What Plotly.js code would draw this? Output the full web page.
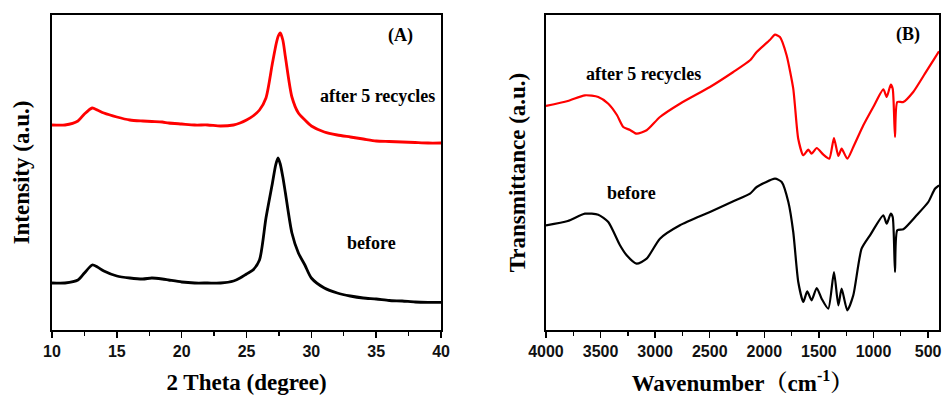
<!DOCTYPE html>
<html>
<head>
<meta charset="utf-8">
<script src="https://cdn.plot.ly/plotly-3.0.1.min.js"></script>
<style>html,body{margin:0;padding:0;background:#fff;}#chart{width:942px;height:396px;}</style>
</head>
<body>
<div id="chart"></div>
<script>
// ---- (A) XRD data ----
const xrdTheta = [10, 11, 12, 12.5, 13.1, 13.5, 14, 15, 16, 17, 17.7, 18.5, 19, 20, 21, 22, 23, 24, 24.5, 25, 25.5, 26, 26.5, 27, 27.3, 27.45, 27.6, 27.8, 28, 28.5, 29, 29.5, 30, 31, 32, 33, 34, 35, 36, 37, 38, 39, 40];
const xrdAfter = [205, 205, 209, 216, 222, 220, 217, 213, 210, 209, 208.5, 208, 207, 206, 205, 205, 204, 205, 207, 210, 214, 220, 232, 267, 287, 294, 297, 290, 273, 233, 217, 210, 204, 198, 195, 193, 191, 189, 188.5, 188, 187.5, 187, 187];
const xrdThetaB = [10, 11, 12, 12.5, 13.1, 13.5, 14, 15, 16, 17, 17.7, 18.5, 19, 20, 21, 22, 23, 24, 24.5, 25, 25.5, 26, 26.5, 27, 27.25, 27.43, 27.6, 27.8, 28, 28.5, 29, 29.5, 30, 31, 32, 33, 34, 35, 36, 37, 38, 39, 40];
const xrdBefore = [47, 47, 50, 57, 65, 63, 59, 54, 52, 51, 52, 51, 50, 48, 47, 47, 47, 49, 52, 56, 60, 70, 112, 147, 165, 172, 166, 153, 137, 97, 77, 65, 52, 42, 37, 34, 32, 31, 29.5, 29, 28, 27.7, 27.7];
const xrdTicks = [10, 15, 20, 25, 30, 35, 40];

// ---- (B) FTIR data ----
const irWaveAfter = [4000, 3800, 3643, 3521, 3429, 3350, 3292, 3230, 3170, 3078, 2956, 2773, 2498, 2284, 2131, 2070, 1950, 1902, 1857, 1796, 1735, 1720, 1689, 1643, 1597, 1567, 1520, 1459, 1405, 1362, 1322, 1292, 1240, 1185, 1093, 1002, 910, 879, 842, 824, 803, 782, 727, 636, 529, 452, 400];
const irAfter = [224, 229, 234.7, 233, 226.3, 215, 203, 200, 196.3, 199.7, 213, 226.3, 243, 258, 269.7, 278, 290, 295.3, 293, 274.7, 241.3, 225, 191, 174.7, 180.3, 176.3, 182, 175.3, 171.3, 192, 174, 181.3, 171.3, 183, 204.7, 223, 240.7, 233, 245.3, 241.3, 193, 228, 228, 238, 256.3, 269.7, 278.7];
const irWaveBefore = [4000, 3800, 3643, 3521, 3429, 3322, 3261, 3170, 3078, 2956, 2773, 2498, 2284, 2131, 2070, 1902, 1841, 1780, 1735, 1689, 1643, 1607, 1567, 1520, 1475, 1414, 1362, 1322, 1292, 1240, 1185, 1109, 1032, 910, 879, 842, 824, 803, 782, 727, 605, 498, 437, 400];
const irBefore = [104.7, 109, 116.3, 115.3, 108, 84.7, 74.7, 66.3, 71.3, 91.3, 104.7, 118, 128.7, 136.3, 143, 151.3, 148, 128, 98, 48, 28, 38.7, 29.7, 42, 31.3, 21.3, 58, 24.7, 41.3, 19.7, 34.7, 81.3, 94.7, 114.7, 106.3, 116.3, 113, 58, 99.7, 100.7, 114.7, 128, 141.3, 144.7];
const irTicks = [4000, 3500, 3000, 2500, 2000, 1500, 1000, 500];

const serif = 'Liberation Serif, "Times New Roman", "Noto Serif CJK SC", "Noto Sans CJK SC", serif';
const sans = 'Liberation Sans, Arial, sans-serif';
const RED = '#ff0000';

const traces = [
  {x: xrdThetaB, y: xrdBefore, xaxis: 'x', yaxis: 'y', mode: 'lines', line: {color: '#000', width: 2.8, shape: 'spline', smoothing: 0.7}, name: 'before'},
  {x: xrdTheta, y: xrdAfter, xaxis: 'x', yaxis: 'y', mode: 'lines', line: {color: RED, width: 2.8, shape: 'spline', smoothing: 0.7}, name: 'after 5 recycles'},
  {x: irWaveBefore, y: irBefore, xaxis: 'x2', yaxis: 'y2', mode: 'lines', line: {color: '#000', width: 2.2, shape: 'spline', smoothing: 0.6}, name: 'before'},
  {x: irWaveAfter, y: irAfter, xaxis: 'x2', yaxis: 'y2', mode: 'lines', line: {color: RED, width: 2.2, shape: 'spline', smoothing: 0.6}, name: 'after 5 recycles'}
];

const tickFont = {family: sans, size: 16, color: '#111', weight: 'bold'};
const titleFont = {family: serif, size: 23, color: '#000', weight: 'bold'};
const annFont = {family: serif, size: 18, color: '#000', weight: 'bold'};

const baseX = {
  showline: true, linecolor: '#000', linewidth: 1.6, mirror: true,
  ticks: 'outside', ticklen: 6, tickwidth: 1.5, tickcolor: '#000',
  showgrid: false, zeroline: false, tickfont: tickFont, automargin: false
};
const baseY = {
  showline: true, linecolor: '#000', linewidth: 1.6, mirror: true,
  ticks: '', showticklabels: false, showgrid: false, zeroline: false, automargin: false
};

const layout = {
  width: 942, height: 396,
  margin: {l: 52, r: 3, t: 15, b: 66},
  paper_bgcolor: '#fff', plot_bgcolor: '#fff',
  showlegend: false,
  xaxis: Object.assign({}, baseX, {
    domain: [0, 0.4386], range: [10, 40], tickvals: xrdTicks,
    minor: {dtick: 2.5, tick0: 10, ticks: 'outside', ticklen: 4, tickwidth: 1.3, tickcolor: '#000'},
    title: {text: '2 Theta (degree)', font: titleFont, standoff: 15}
  }),
  yaxis: Object.assign({}, baseY, {
    domain: [0, 1], range: [0, 315], anchor: 'x',
    title: {text: 'Intensity (a.u.)', font: titleFont, standoff: 14}
  }),
  xaxis2: Object.assign({}, baseX, {
    domain: [0.5569, 1], range: [4000, 400], tickvals: irTicks, anchor: 'y2',
    minor: {dtick: 250, tick0: 0, ticks: 'outside', ticklen: 4, tickwidth: 1.3, tickcolor: '#000'},
    title: {text: 'Wavenumber（cm<sup>-1</sup>）', font: titleFont, standoff: 16}
  }),
  yaxis2: Object.assign({}, baseY, {
    domain: [0, 1], range: [0, 315], anchor: 'x2',
    title: {text: 'Transmittance (a.u.)', font: titleFont, standoff: 12}
  }),
  annotations: [
    {xref: 'x', yref: 'y', x: 36.84, y: 295, text: '(A)', showarrow: false, font: annFont},
    {xref: 'x', yref: 'y', x: 35.1, y: 234, text: 'after 5 recycles', showarrow: false, font: annFont},
    {xref: 'x', yref: 'y', x: 34.67, y: 87, text: 'before', showarrow: false, font: annFont},
    {xref: 'x2', yref: 'y2', x: 684, y: 296, text: '(B)', showarrow: false, font: annFont},
    {xref: 'x2', yref: 'y2', x: 3111, y: 256, text: 'after 5 recycles', showarrow: false, font: annFont},
    {xref: 'x2', yref: 'y2', x: 3221, y: 137, text: 'before', showarrow: false, font: annFont}
  ]
};

Plotly.newPlot('chart', traces, layout, {staticPlot: true, displayModeBar: false});
</script>
</body>
</html>
